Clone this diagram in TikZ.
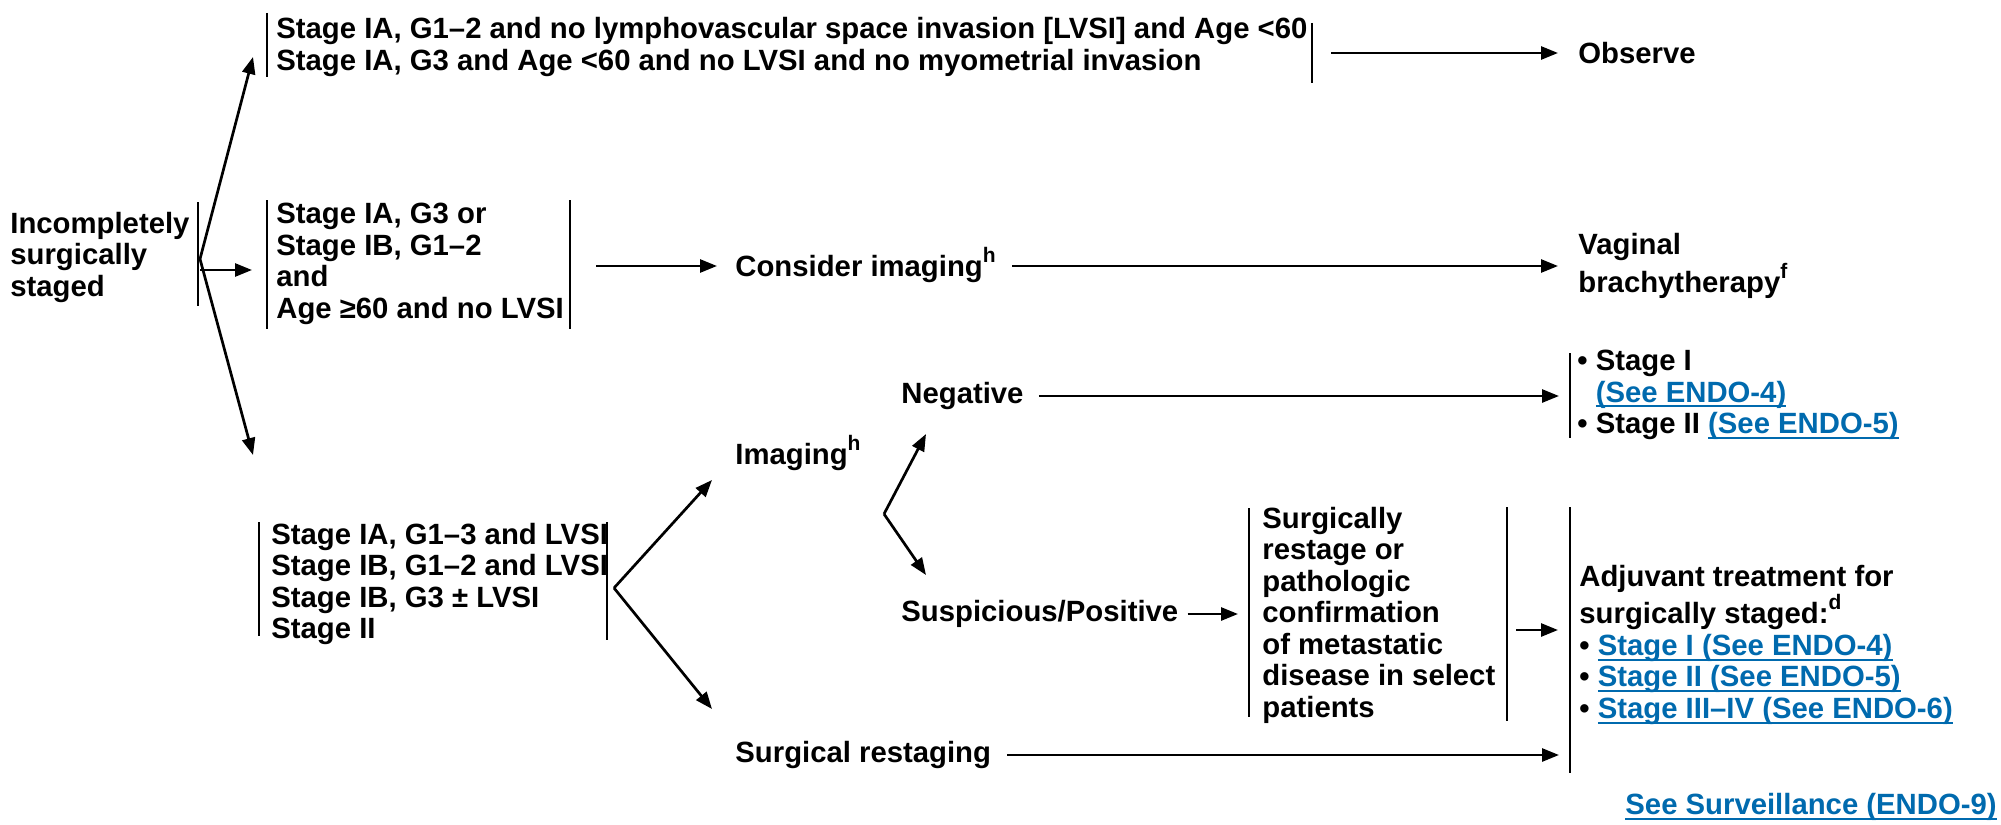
\documentclass[tikz,border=0pt]{standalone}
\usepackage{fontspec}
\setmainfont{Liberation Sans}
\usetikzlibrary{arrows.meta,calc}
\definecolor{linkblue}{RGB}{0,106,174}
\newcommand{\seelink}[1]{\textcolor{linkblue}{\setbox0\hbox{#1}\rlap{\rule[-2.6pt]{\wd0}{1pt}}\box0}}
\newcommand{\indbul}{\phantom{\textbullet\ }}
\newcommand{\fnmark}[1]{\raisebox{0.48em}{\fontsize{10.5}{10.5}\selectfont #1}}

\begin{document}
\begin{tikzpicture}[x=0.5pt,y=-0.5pt,
  txt/.style={anchor=west,inner sep=0pt,align=left,font=\bfseries\fontsize{14.65}{15.75}\selectfont},
  arr/.style={-{Triangle[length=8.5pt,width=6.5pt]},line width=1.35pt},
  bar/.style={line width=1.35pt}]
  \useasboundingbox (0,0) rectangle (2001,824);

  % Raíz
  \node[txt] (inc) at (10,257) {Incompletely\\surgically\\staged};
  \draw[bar] (198,202) -- (198,306);
  \coordinate (fan0) at (200,259);
  \coordinate (midfrom) at (200,270);

  % Rama superior
  \node[txt] (lowrisk) at (276,47) {Stage IA, G1–2 and no lymphovascular space invasion [LVSI] and Age <60\\Stage IA, G3 and Age <60 and no LVSI and no myometrial invasion};
  \draw[bar] (267,13) -- (267,77);
  \draw[bar] (1312,23) -- (1312,83);
  \coordinate (lowin) at (253,57);
  \coordinate (lowout) at (1331,53);
  \node[txt] (obs) at (1578,53) {Observe};

  % Rama media
  \node[txt] (midrisk) at (276,264) {Stage IA, G3 or\\Stage IB, G1–2\\and\\Age ≥60 and no LVSI};
  \draw[bar] (267,200) -- (267,329);
  \draw[bar] (570,200) -- (570,329);
  \coordinate (midin) at (252,270);
  \coordinate (midout) at (596,266);
  \node[txt] (cons) at (735,265) {Consider imaging\fnmark{h}};
  \node[txt] (vag) at (1578,266) {Vaginal\\brachytherapy\fnmark{f}};

  % Rama inferior
  \coordinate (highin) at (253,455);
  \node[txt] (highrisk) at (271,584) {Stage IA, G1–3 and LVSI\\Stage IB, G1–2 and LVSI\\Stage IB, G3 ± LVSI\\Stage II};
  \draw[bar] (259,522) -- (259,636);
  \draw[bar] (607,522) -- (607,640);
  \coordinate (fan1) at (614,588);
  \coordinate (imgin) at (712,480);
  \coordinate (srin) at (712,709);
  \node[txt] (img) at (735,453) {Imaging\fnmark{h}};
  \node[txt] (surgre) at (735,755) {Surgical restaging};

  % Resultado de imagen
  \coordinate (fan2) at (884,514);
  \coordinate (negin) at (926,434);
  \coordinate (susin) at (926,575);
  \node[txt] (neg) at (901,396) {Negative};
  \node[txt] (sus) at (901,614) {Suspicious/Positive};

  % Estadio I / II
  \draw[bar] (1570,353) -- (1570,438);
  \coordinate (negbar) at (1570,396);
  \node[txt] (negres) at (1577,395) {\textbullet\ Stage I\\\indbul\seelink{(See ENDO-4)}\\\textbullet\ Stage II \seelink{(See ENDO-5)}};

  % Confirmación
  \draw[bar] (1249,508) -- (1249,717);
  \draw[bar] (1507,507) -- (1507,721);
  \coordinate (confbar) at (1249,614);
  \coordinate (confout) at (1516,630);
  \node[txt] (confirm) at (1262,615) {Surgically\\restage or\\pathologic\\confirmation\\of metastatic\\disease in select\\patients};

  % Tratamiento adyuvante
  \draw[bar] (1570,507) -- (1570,773);
  \coordinate (adjbar) at (1570,640);
  \node[txt] (adj) at (1579,645) {Adjuvant treatment for\\surgically staged:\fnmark{d}\\\textbullet\ \seelink{Stage I (See ENDO-4)}\\\textbullet\ \seelink{Stage II (See ENDO-5)}\\\textbullet\ \seelink{Stage III–IV (See ENDO-6)}};
  \node[txt] (surv) at (1625,807) {\seelink{See Surveillance (ENDO-9)}};

  % Flechas
  \draw[arr] (fan0) -- (lowin);
  \draw[arr] (midfrom) -- (midin);
  \draw[arr] (fan0) -- (highin);
  \draw[arr,shorten >=10pt] (lowout) -- (lowout -| obs.west);
  \draw[arr,shorten >=9pt] (midout) -- (midout -| cons.west);
  \draw[arr,shorten <=8pt,shorten >=10pt] (cons.east |- vag.west) -- (vag.west);
  \draw[arr] (fan1) -- (imgin);
  \draw[arr] (fan1) -- (srin);
  \draw[arr] (fan2) -- (negin);
  \draw[arr] (fan2) -- (susin);
  \draw[arr,shorten <=7.5pt,shorten >=5.5pt] (neg.east) -- (neg.east -| negbar);
  \draw[arr,shorten <=4.5pt,shorten >=5.5pt] (sus.east) -- (sus.east -| confbar);
  \draw[arr,shorten >=6pt] (confout) -- (confout -| adjbar);
  \draw[arr,shorten <=8pt,shorten >=5.5pt] (surgre.east) -- (surgre.east -| adjbar);
\end{tikzpicture}
\end{document}
